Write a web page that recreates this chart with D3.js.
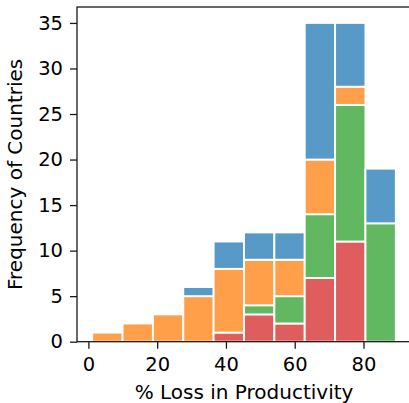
<!DOCTYPE html>
<html>
<head>
<meta charset="utf-8">
<script src="https://cdn.jsdelivr.net/npm/d3@7"></script>
<style>
  html, body { margin: 0; padding: 0; background: #fff; }
  svg { display: block; font-family: "DejaVu Sans", sans-serif; }
</style>
</head>
<body>
<svg id="chart" width="409" height="403"></svg>
<script>
// Histogram bin edges (% loss in productivity)
const binEdges = [1.1, 9.93, 18.76, 27.59, 36.42, 45.25, 54.08, 62.91, 71.74, 80.57, 89.4];

// Country counts per bin, stacked bottom to top
const seriesRed    = [0, 0, 0, 0, 1, 3, 2, 7, 11, 0];
const seriesGreen  = [0, 0, 0, 0, 0, 1, 3, 7, 15, 13];
const seriesOrange = [1, 2, 3, 5, 7, 5, 4, 6, 2, 0];
const seriesBlue   = [0, 0, 0, 1, 3, 3, 3, 15, 7, 6];

const xTicks = [0, 20, 40, 60, 80];
const yTicks = [0, 5, 10, 15, 20, 25, 30, 35];

const series = [
  { values: seriesRed,    color: "#e05d5e" },
  { values: seriesGreen,  color: "#61b861" },
  { values: seriesOrange, color: "#ff9f4a" },
  { values: seriesBlue,   color: "#5799c7" }
];

const svg = d3.select("#chart");
const plotLeft = 77, plotRight = 411, plotTop = 7, plotBottom = 341.7;

const span = binEdges[binEdges.length - 1] - binEdges[0];
const x = d3.scaleLinear()
  .domain([binEdges[0] - 0.05 * span, binEdges[binEdges.length - 1] + 0.05 * span])
  .range([plotLeft, plotRight]);

const totals = binEdges.slice(0, -1).map((_, i) => d3.sum(series, s => s.values[i]));
const y = d3.scaleLinear()
  .domain([0, d3.max(totals) * 1.05])
  .range([plotBottom, plotTop]);

// Build stacked segments
const segments = [];
binEdges.slice(0, -1).forEach((x0, i) => {
  let base = 0;
  series.forEach(s => {
    const v = s.values[i];
    if (v > 0) {
      segments.push({ x0: x0, x1: binEdges[i + 1], y0: base, y1: base + v, color: s.color });
    }
    base += v;
  });
});

svg.append("g")
  .selectAll("rect")
  .data(segments)
  .join("rect")
  .attr("x", d => x(d.x0))
  .attr("width", d => x(d.x1) - x(d.x0))
  .attr("y", d => y(d.y1))
  .attr("height", d => y(d.y0) - y(d.y1))
  .attr("fill", d => d.color)
  .attr("stroke", "#ffffff")
  .attr("stroke-width", 1.9);

// Axes
const xAxis = svg.append("g")
  .attr("transform", `translate(0,${plotBottom})`)
  .call(d3.axisBottom(x).tickValues(xTicks).tickSize(7).tickPadding(8).tickSizeOuter(0));
const yAxis = svg.append("g")
  .attr("transform", `translate(${plotLeft},0)`)
  .call(d3.axisLeft(y).tickValues(yTicks).tickSize(7).tickPadding(7).tickSizeOuter(0));

[xAxis, yAxis].forEach(g => {
  g.selectAll("path.domain").remove();
  g.selectAll(".tick line").attr("stroke", "#1a1a1a").attr("stroke-width", 1.3);
  g.selectAll(".tick text")
    .attr("fill", "#000")
    .style("font-family", "'DejaVu Sans', sans-serif")
    .style("font-size", "19.5px");
});

// Spines: left, bottom, top
svg.append("rect")
  .attr("x", plotLeft).attr("y", plotTop)
  .attr("width", plotRight - plotLeft).attr("height", plotBottom - plotTop)
  .attr("fill", "none")
  .attr("stroke", "#1a1a1a")
  .attr("stroke-width", 1.3);

// Axis labels
svg.append("text")
  .attr("x", (plotLeft + plotRight) / 2)
  .attr("y", 398.5)
  .attr("text-anchor", "middle")
  .style("font-size", "20px")
  .attr("fill", "#000")
  .text("% Loss in Productivity");

svg.append("text")
  .attr("transform", `translate(22,${(plotTop + plotBottom) / 2}) rotate(-90)`)
  .attr("text-anchor", "middle")
  .style("font-size", "20px")
  .attr("fill", "#000")
  .text("Frequency of Countries");
</script>
</body>
</html>
